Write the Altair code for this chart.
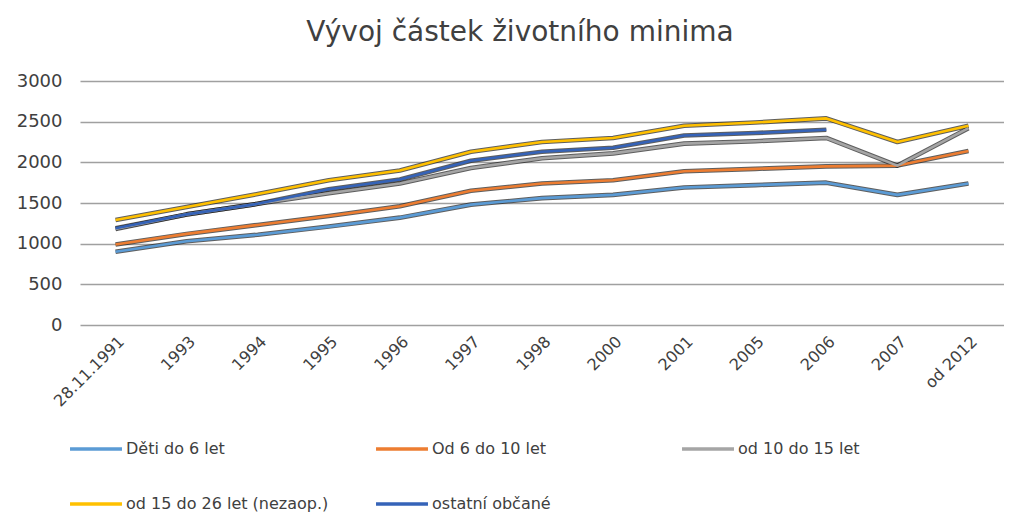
import altair as alt
import pandas as pd

categories = ["28.11.1991", "1993", "1994", "1995", "1996", "1997", "1998",
              "2000", "2001", "2005", "2006", "2007", "od 2012"]

series_names = ["Děti do 6 let", "Od 6 do 10 let", "od 10 do 15  let",
                "od 15 do 26 let (nezaop.)", "ostatní občané"]

deti = [900, 1030, 1110, 1210, 1320, 1480, 1560, 1600, 1690, 1720, 1750, 1600, 1740]
od6 = [990, 1120, 1230, 1340, 1460, 1650, 1740, 1780, 1890, 1920, 1950, 1960, 2140]
od10 = [1180, 1360, 1490, 1620, 1740, 1930, 2050, 2110, 2230, 2260, 2300, 1960, 2420]
od15 = [1290, 1450, 1610, 1780, 1900, 2130, 2250, 2300, 2450, 2490, 2540, 2250, 2450]
ostatni = [1190, 1360, 1490, 1670, 1790, 2020, 2130, 2180, 2330, 2360, 2400, None, None]

colors = ["#5B9BD5", "#ED7D31", "#A5A5A5", "#FFC000", "#3563B8"]

rows = []
for name, vals in zip(series_names, [deti, od6, od10, od15, ostatni]):
    for c, v in zip(categories, vals):
        if v is not None:
            rows.append({"kat": c, "hodnota": v, "serie": name})
df = pd.DataFrame(rows)

FONT = "DejaVu Sans"

x_enc = alt.X("kat:N", sort=categories, title=None,
              scale=alt.Scale(type="point", padding=0.5),
              axis=alt.Axis(labelAngle=-45, labelFontSize=16, labelColor="#404040",
                            labelFont=FONT, ticks=False, domain=False, grid=False,
                            labelPadding=8))
y_enc = alt.Y("hodnota:Q", title=None,
              scale=alt.Scale(domain=[0, 3000]),
              axis=alt.Axis(values=[0, 500, 1000, 1500, 2000, 2500, 3000], format="d",
                            labelFontSize=18, labelColor="#404040", labelFont=FONT,
                            ticks=False, domain=False, gridColor="#A0A0A0",
                            gridWidth=1.6, labelPadding=18))

base = alt.Chart(df)

outline = base.mark_line(strokeWidth=4.6, color="#1a1a1a", opacity=0.7,
                         strokeJoin="round").encode(
    x=x_enc, y=y_enc,
    detail=alt.Detail("serie:N"),
)

lines = base.mark_line(strokeWidth=2.6, strokeJoin="round").encode(
    x=x_enc, y=y_enc,
    color=alt.Color("serie:N", sort=series_names,
                    scale=alt.Scale(domain=series_names, range=colors),
                    legend=alt.Legend(title=None, orient="none", legendX=-12, legendY=340,
                                      direction="horizontal", columns=3, gridAlign="all",
                                      symbolType="stroke", symbolSize=2700,
                                      symbolStrokeWidth=3.5, labelFontSize=16,
                                      labelFont=FONT, labelColor="#404040",
                                      columnPadding=40, rowPadding=19, labelOffset=2,
                                      labelLimit=400)),
)

chart = alt.layer(outline, lines).properties(
    width=924, height=244,
    autosize=alt.AutoSizeParams(type="none"),
    padding={"left": 72, "top": 73, "right": 0, "bottom": 191},
    title=alt.TitleParams("Vývoj částek životního minima", fontSize=28, font=FONT,
                          fontWeight="normal", color="#404040", offset=25, dx=-22,
                          anchor="middle"),
).configure_view(stroke=None)

chart.save("out.html", embed_options={"renderer": "svg", "actions": False})
